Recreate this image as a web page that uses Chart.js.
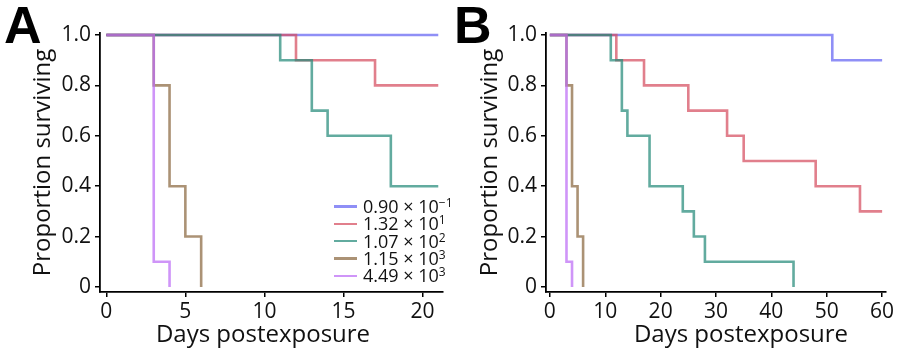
<!DOCTYPE html>
<html>
<head>
<meta charset="utf-8">
<script src="https://cdn.jsdelivr.net/npm/chart.js@4.4.1/dist/chart.umd.min.js"></script>
<style>
  html, body { margin: 0; padding: 0; background: #fff; }
  body { width: 900px; height: 356px; position: relative; overflow: hidden; font-family: "Open Sans", sans-serif; }
  .panel { position: absolute; top: 0; width: 450px; height: 356px; }
  .letter { position: absolute; font-family: "Liberation Sans", Arial, sans-serif; font-weight: bold; font-size: 52px; line-height: 1; color: #000; }
  .xtitle { position: absolute; width: 300px; text-align: center; font-size: 24px; line-height: 1; color: #111; }
  .legend { position: absolute; left: 334px; top: 198px; font-size: 18px; color: #111; }
  .legend .row { height: 17.3px; line-height: 17.3px; white-space: nowrap; display: flex; align-items: center; }
  .legend .sw { display: inline-block; width: 23px; height: 2.5px; margin-right: 6px; }
  .legend sup { font-size: 12px; vertical-align: 6px; line-height: 0; }
</style>
</head>
<body>
<div class="panel" style="left:0"><canvas id="cA" width="450" height="356"></canvas></div>
<div class="panel" style="left:450px"><canvas id="cB" width="450" height="356"></canvas></div>
<div class="letter" style="left:4px;top:-1px">A</div>
<div class="letter" style="left:454px;top:-1px">B</div>
<div class="xtitle" style="left:113px;top:321px">Days postexposure</div>
<div class="xtitle" style="left:591px;top:321px">Days postexposure</div>
<div class="legend" id="legend"></div>
<script>
// Series labels (doses)
const seriesLabels = ["0.90 × 10⁻¹", "1.32 × 10¹", "1.07 × 10²", "1.15 × 10³", "4.49 × 10³"];
const seriesLabelsHtml = ["0.90 × 10<sup>−1</sup>", "1.32 × 10<sup>1</sup>", "1.07 × 10<sup>2</sup>", "1.15 × 10<sup>3</sup>", "4.49 × 10<sup>3</sup>"];
const seriesColors = ["rgba(100,100,242,0.72)", "rgba(214,78,96,0.72)", "rgba(38,138,122,0.72)", "rgba(138,104,64,0.72)", "rgba(188,108,245,0.72)"];

// Panel A: days (step times) and proportion surviving
const aDays = [
  [0, 21],
  [0, 12, 17, 21],
  [0, 11, 13, 14, 18, 21],
  [0, 3, 4, 5, 6],
  [0, 3, 4]
];
const aSurv = [
  [1, 1],
  [1, 0.9, 0.8, 0.8],
  [1, 0.9, 0.7, 0.6, 0.4, 0.4],
  [1, 0.8, 0.4, 0.2, 0],
  [1, 0.1, 0]
];

// Panel B
const bDays = [
  [0, 51, 60],
  [0, 12, 17, 25, 32, 35, 48, 56, 60],
  [0, 11, 13, 14, 18, 24, 26, 28, 44],
  [0, 3, 4, 5, 6],
  [0, 3, 4]
];
const bSurv = [
  [1, 0.9, 0.9],
  [1, 0.9, 0.8, 0.7, 0.6, 0.5, 0.4, 0.3, 0.3],
  [1, 0.9, 0.7, 0.6, 0.4, 0.3, 0.2, 0.1, 0],
  [1, 0.8, 0.4, 0.2, 0],
  [1, 0.1, 0]
];

const aXTicks = [0, 5, 10, 15, 20];
const bXTicks = [0, 10, 20, 30, 40, 50, 60];
const yTicks = [0, 0.2, 0.4, 0.6, 0.8, 1.0];

function makeDatasets(days, surv) {
  return days.map((d, i) => ({
    label: seriesLabels[i],
    data: d.map((x, j) => ({ x: x, y: surv[i][j] })),
    borderColor: seriesColors[i],
    backgroundColor: seriesColors[i],
    borderWidth: 2.6,
    pointRadius: 0,
    fill: false,
    stepped: true,
    clip: false,
    order: 4 - i
  }));
}

function makeChart(id, days, surv, xmin, xmax, xticks, yWidth, padRight, titlePad) {
  const tickFont = { family: "Open Sans", size: 21 };
  return new Chart(document.getElementById(id), {
    type: 'line',
    data: { datasets: makeDatasets(days, surv) },
    options: {
      responsive: false,
      devicePixelRatio: 1,
      animation: false,
      layout: { padding: { top: 33, right: padRight, bottom: 0, left: 0 } },
      plugins: { legend: { display: false }, tooltip: { enabled: false } },
      scales: {
        x: {
          type: 'linear',
          min: xmin, max: xmax,
          afterBuildTicks: s => { s.ticks = xticks.map(v => ({ value: v })); },
          afterFit: s => { s.height = 64; },
          grid: { display: true, drawOnChartArea: false, drawTicks: true, tickLength: 5, color: '#000', lineWidth: 1.5 },
          border: { display: true, color: '#000', width: 1.8 },
          ticks: { font: tickFont, color: '#111', padding: 2, maxRotation: 0, callback: v => String(v) }
        },
        y: {
          type: 'linear',
          min: -0.02, max: 1.008,
          afterBuildTicks: s => { s.ticks = yTicks.map(v => ({ value: v })); },
          afterFit: s => { s.width = yWidth; },
          grid: { display: true, drawOnChartArea: false, drawTicks: true, tickLength: 5, color: '#000', lineWidth: 1.5 },
          border: { display: true, color: '#000', width: 1.8 },
          ticks: { font: tickFont, color: '#111', padding: 4, callback: v => (v === 0 ? '0' : v.toFixed(1)) },
          title: { display: true, text: 'Proportion surviving', font: { family: "Open Sans", size: 24 }, color: '#111', padding: { top: titlePad, bottom: 0 } }
        }
      }
    }
  });
}

makeChart('cA', aDays, aSurv, -0.4, 21.3, aXTicks, 100, 7, 29);
makeChart('cB', bDays, bSurv, -0.7, 60.7, bXTicks, 96, 14, 26);

// HTML legend for panel A
const lg = document.getElementById('legend');
seriesLabelsHtml.forEach((t, i) => {
  const r = document.createElement('div');
  r.className = 'row';
  r.innerHTML = '<span class="sw" style="background:' + seriesColors[i] + '"></span><span>' + t + '</span>';
  lg.appendChild(r);
});
</script>
</body>
</html>
